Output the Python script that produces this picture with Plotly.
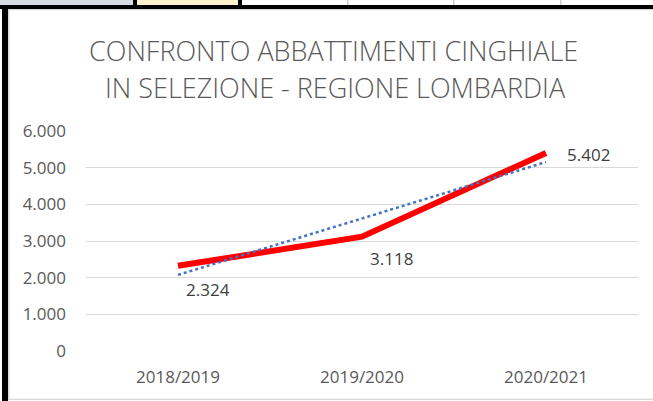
import numpy as np
import plotly.graph_objects as go

# ---- data ----
seasons = ["2018/2019", "2019/2020", "2020/2021"]
abbattimenti = [2324, 3118, 5402]
label_texts = ["2.324", "3.118", "5.402"]
y_ticks = [0, 1000, 2000, 3000, 4000, 5000, 6000]
title_lines = ["CONFRONTO ABBATTIMENTI CINGHIALE", "IN SELEZIONE - REGIONE LOMBARDIA"]

# linear trendline (Excel-style) computed from the data
xi = np.arange(1, len(abbattimenti) + 1)
slope, intercept = np.polyfit(xi, abbattimenti, 1)
trend = list(slope * xi + intercept)

W, H = 653, 401
L, R, T, B = 86, 15, 131, 50
PW, PH = W - L - R, H - T - B

def px(x):
    return (x - L) / PW

def py(y):
    return 1 - (y - T) / PH

FONT = "Open Sans"
GREY = "#595959"

fig = go.Figure()
fig.add_trace(go.Scatter(
    x=seasons, y=abbattimenti, mode="lines",
    line=dict(color="#FF0000", width=6), showlegend=False,
))
fig.add_trace(go.Scatter(
    x=seasons, y=trend, mode="lines",
    line=dict(color="#4472C4", width=2.5, dash="dot"), showlegend=False,
))

# data labels
offsets = [(30, -24), (29, -22), (42, -2)]
for s, v, t, (dx, dy) in zip(seasons, abbattimenti, label_texts, offsets):
    fig.add_annotation(x=s, y=v, text=t, showarrow=False, xshift=dx, yshift=dy,
                       font=dict(family=FONT, size=17, color="#404040"))

# title
for line, xpix, ypix in zip(title_lines, [333, 335], [50, 88]):
    fig.add_annotation(xref="paper", yref="paper", x=px(xpix), y=py(ypix), text=line,
                       showarrow=False, xanchor="center", yanchor="middle",
                       font=dict(family=FONT, size=27, color=GREY, weight=300))

shapes = []
def rect(x0, y0, x1, y1, color):
    shapes.append(dict(type="rect", xref="paper", yref="paper",
                       x0=px(x0), x1=px(x1), y0=py(y0), y1=py(y1),
                       fillcolor=color, line=dict(width=0), layer="below"))

# spreadsheet cells at the top
rect(0, 0, 133, 5, "#D6DCE4")
rect(133, 0, 137, 5, "#000000")
rect(137, 0, 238, 5, "#FFF2CC")
rect(238, 0, 242, 5, "#000000")
for xd in [347, 453, 560]:
    rect(xd, 0, xd + 1.5, 5, "#D0D0D0")
rect(0, 5, W, 9, "#000000")
# left black border
rect(2, 5, 8, H, "#000000")
# chart area border
rect(8, 9, 9.5, 399.5, "#D9D9D9")
rect(8, 9, W, 10.2, "#D9D9D9")
rect(8, 398.8, W, 400, "#D9D9D9")

fig.update_layout(
    width=W, height=H,
    margin=dict(l=L, r=R, t=T, b=B),
    paper_bgcolor="white", plot_bgcolor="white",
    separators=",.",
    shapes=shapes,
    showlegend=False,
    xaxis=dict(type="category", range=[-0.5, 2.5], showgrid=False, zeroline=False,
               showline=False, ticks="", ticklabelstandoff=14,
               tickfont=dict(family=FONT, size=17, color=GREY)),
    yaxis=dict(range=[0, 6000], tickvals=y_ticks, tickformat=",d",
               showgrid=True, gridcolor="#D9D9D9", gridwidth=1.3, zeroline=False,
               showline=False, ticks="", ticklabelstandoff=19,
               tickfont=dict(family=FONT, size=17, color=GREY)),
)

fig.write_html("out.html", config={"displayModeBar": False},
               post_script="document.body.style.margin='0';document.body.style.overflow='hidden';")
